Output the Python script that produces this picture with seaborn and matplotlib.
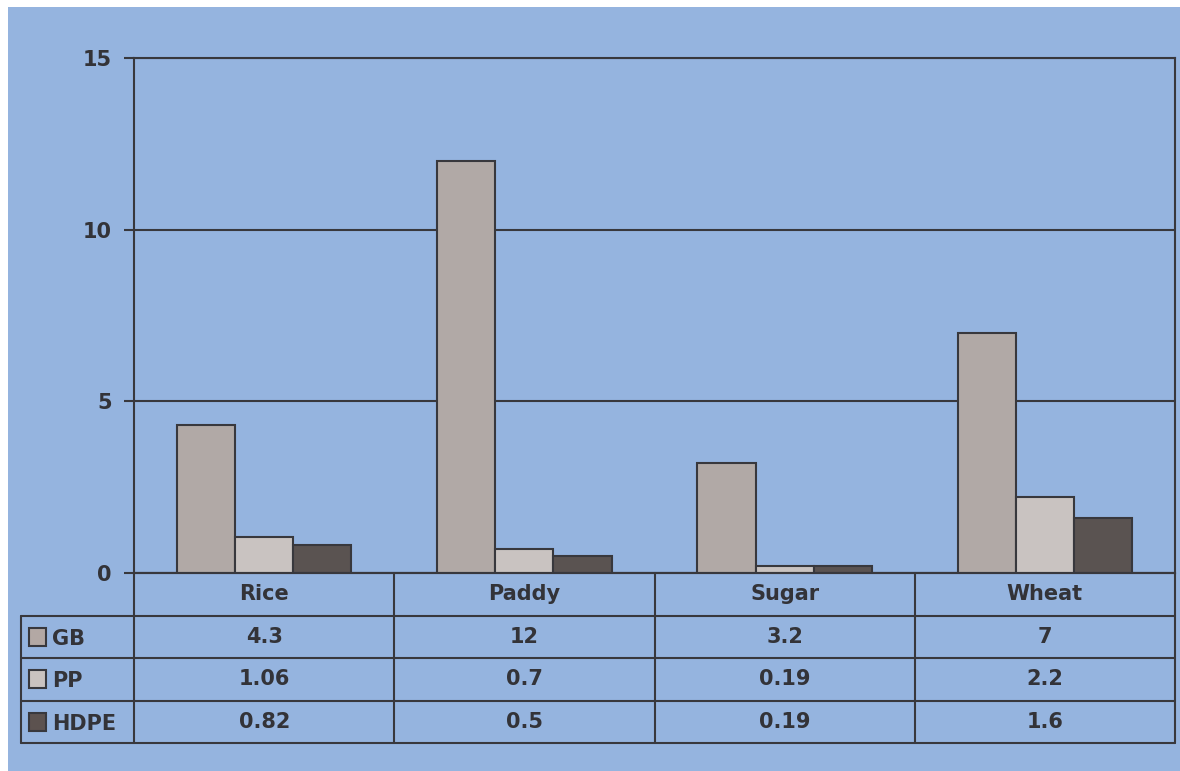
import matplotlib
matplotlib.use("Agg")
import matplotlib.pyplot as plt
from matplotlib.patches import Rectangle
import seaborn as sns
import pandas as pd

# chart data
categories = ["Rice", "Paddy", "Sugar", "Wheat"]
series_names = ["GB", "PP", "HDPE"]
gb_values = [4.3, 12, 3.2, 7]
pp_values = [1.06, 0.7, 0.19, 2.2]
hdpe_values = [0.82, 0.5, 0.19, 1.6]
y_ticks = [0, 5, 10, 15]

series_values = {"GB": gb_values, "PP": pp_values, "HDPE": hdpe_values}
colors = {"GB": "#b3a8a4", "PP": "#cac3c0", "HDPE": "#5c524f"}
bg_color = "#95b4df"
line_color = "#38383d"
text_color = "#333338"

df = pd.DataFrame(
    [(c, s, series_values[s][i]) for s in series_names for i, c in enumerate(categories)],
    columns=["category", "series", "value"],
)

sns.set_style("white")
plt.rcParams["font.family"] = ["DejaVu Sans"]
plt.rcParams["font.weight"] = "bold"

W, H = 1180, 771
fig = plt.figure(figsize=(W / 100, H / 100), dpi=100, facecolor="white")

# blue backdrop
fig.add_artist(Rectangle((8 / W, 0), 1, 1 - 7 / H, transform=fig.transFigure,
                         facecolor=bg_color, edgecolor="none", zorder=-10))

# main bar axes
ax = fig.add_axes([134 / W, 198 / H, 1041 / W, 515 / H])
ax.set_facecolor("none")
sns.barplot(data=df, x="category", y="value", hue="series", order=categories,
            hue_order=series_names, palette=colors, width=0.67,
            edgecolor=line_color, linewidth=1.5, ax=ax, legend=False, zorder=3)

ax.set_xlim(-0.5, len(categories) - 0.5)
ax.set_ylim(0, 15)
ax.set_yticks(y_ticks)
ax.set_xticks([])
ax.set_xlabel("")
ax.set_ylabel("")
ax.yaxis.grid(True, color=line_color, linewidth=1.5)
ax.set_axisbelow(True)
for sp in ax.spines.values():
    sp.set_visible(True)
    sp.set_color(line_color)
    sp.set_linewidth(1.5)
ax.tick_params(axis="y", direction="out", length=7, width=1.5, color=line_color,
               pad=9, labelsize=15, labelcolor=text_color, left=True)
for lbl in ax.get_yticklabels():
    lbl.set_fontweight("bold")

# data table below the axes
label_w = 113 / 260
tax = fig.add_axes([21 / W, 28 / H, 1154 / W, 170 / H])
tax.set_xlim(-label_w, len(categories))
tax.set_ylim(4, 0)
tax.axis("off")

lw = 1.5
n = len(categories)
tax.plot([0, n], [0, 0], color=line_color, lw=lw, clip_on=False)
for r in range(1, 5):
    tax.plot([-label_w, n], [r, r], color=line_color, lw=lw, clip_on=False)
for c in range(n + 1):
    tax.plot([c, c], [0, 4], color=line_color, lw=lw, clip_on=False)
tax.plot([-label_w, -label_w], [1, 4], color=line_color, lw=lw, clip_on=False)

for i, cat in enumerate(categories):
    tax.text(i + 0.5, 0.5, cat, ha="center", va="center", fontsize=15,
             fontweight="bold", color=text_color)

for r, s in enumerate(series_names, start=1):
    tax.add_patch(Rectangle((-label_w + 8 / 260, r + 0.29), 17 / 260, 0.42,
                            facecolor=colors[s], edgecolor=line_color, lw=1.5,
                            clip_on=False))
    tax.text(-label_w + 31 / 260, r + 0.55, s, ha="left", va="center", fontsize=15,
             fontweight="bold", color=text_color)
    for i, v in enumerate(series_values[s]):
        tax.text(i + 0.5, r + 0.5, f"{v:g}", ha="center", va="center", fontsize=15,
                 fontweight="bold", color=text_color)

fig.savefig("out.png", dpi=100, facecolor=fig.get_facecolor())
